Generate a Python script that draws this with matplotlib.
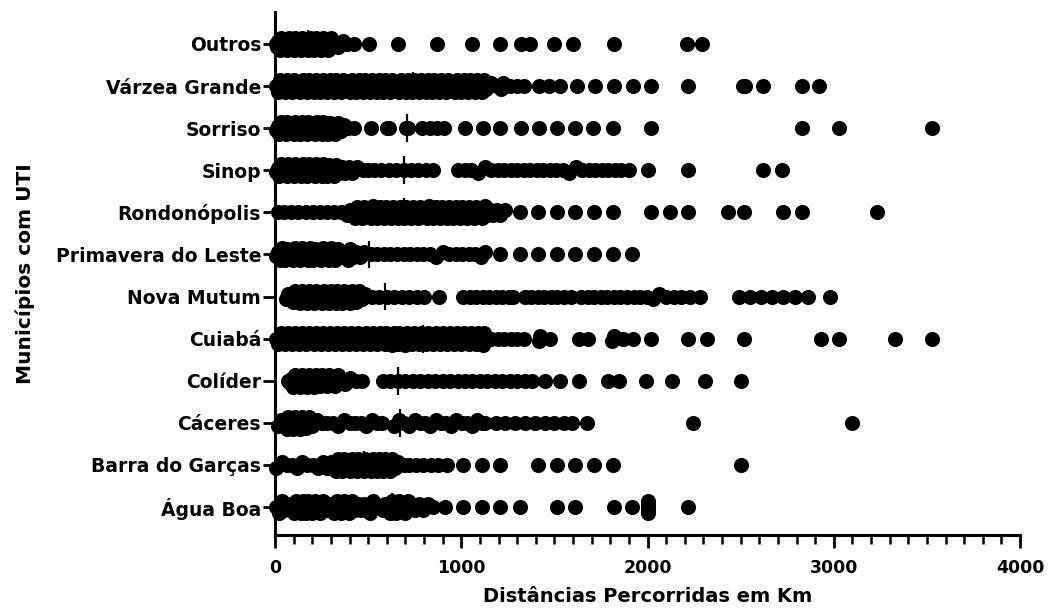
import matplotlib
matplotlib.use("Agg")
import matplotlib.pyplot as plt
import numpy as np
from matplotlib.ticker import MultipleLocator

# ── dados (km), de baixo para cima ──────────────────────────────
CATEGORIES = [
    "Água Boa", "Barra do Garças", "Cáceres", "Colíder", "Cuiabá",
    "Nova Mutum", "Primavera do Leste", "Rondonópolis", "Sinop",
    "Sorriso", "Várzea Grande", "Outros",
]

AGUA_BOA = [8, 22, 35, 50, 63, 77, 90, 102, 112, 121, 130, 139, 148, 157, 166,
            176, 188, 200, 213, 227, 242, 257, 272, 288, 303, 318, 331, 344,
            357, 370, 384, 398, 413, 428, 444, 460, 476, 492, 508, 524, 540,
            578, 592, 604, 616, 628, 640, 652, 665, 680, 696, 713, 732, 752,
            772, 795, 820, 848, 915, 1010, 1110, 1210, 1315, 1515, 1610, 1820,
            1915, 2000, 2000, 2000, 2000, 2220]
BARRA_DO_GARCAS = [8, 35, 62, 90, 118, 146, 174, 202, 230, 256, 280, 298, 310,
                   320, 329, 338, 346, 354, 362, 370, 377, 384, 391, 398, 405,
                   412, 419, 426, 433, 440, 447, 454, 461, 468, 476, 484, 492,
                   500, 508, 516, 524, 532, 541, 550, 560, 570, 580, 591, 603,
                   616, 630, 645, 662, 690, 722, 758, 795, 835, 875, 925, 1010,
                   1110, 1210, 1410, 1515, 1610, 1715, 1815, 2500]
CACERES = [15, 30, 42, 52, 62, 71, 80, 89, 98, 107, 116, 125, 135, 145, 156,
           168, 182, 200, 225, 252, 280, 310, 340, 370, 400, 430, 460, 490,
           520, 550, 575, 640, 668, 694, 722, 750, 778, 806, 834, 862, 890,
           918, 946, 974, 1002, 1030, 1058, 1086, 1110, 1128, 1185, 1235,
           1290, 1340, 1395, 1450, 1500, 1550, 1595, 1675, 2245, 3100]
COLIDER = [68, 78, 88, 98, 108, 117, 126, 135, 144, 153, 162, 171, 180, 190,
           200, 210, 220, 231, 242, 254, 266, 279, 292, 306, 321, 337, 355,
           378, 405, 435, 465, 580, 620, 660, 700, 740, 780, 820, 860, 900,
           940, 980, 1020, 1060, 1100, 1140, 1180, 1220, 1260, 1300, 1340,
           1380, 1450, 1530, 1630, 1790, 1845, 1990, 2130, 2310, 2500]
CUIABA = [5, 17, 30, 42, 55, 68, 80, 93, 106, 118, 131, 144, 156, 169, 182,
          195, 208, 220, 233, 246, 258, 271, 284, 296, 309, 322, 334, 347, 360,
          372, 385, 398, 410, 423, 436, 448, 461, 474, 486, 499, 512, 524, 537,
          550, 562, 575, 588, 598, 608, 618, 628, 638, 648, 658, 668, 678, 688,
          698, 710, 722, 735, 748, 760, 773, 786, 798, 811, 824, 836, 849, 862,
          874, 887, 900, 912, 925, 938, 950, 963, 976, 988, 1001, 1014, 1026,
          1039, 1052, 1064, 1077, 1088, 1097, 1106, 1115, 1124, 1160, 1195,
          1230, 1265, 1300, 1335, 1415, 1425, 1475, 1630, 1680, 1810, 1820,
          1870, 1920, 2020, 2220, 2320, 2520, 2930, 3030, 3330, 3530]
NOVA_MUTUM = [60, 72, 84, 95, 106, 116, 126, 136, 146, 155, 164, 173, 182, 191,
              200, 209, 218, 227, 236, 245, 254, 263, 272, 281, 290, 299, 308,
              317, 326, 335, 344, 353, 362, 371, 380, 390, 400, 411, 423, 436,
              450, 466, 485, 520, 560, 600, 640, 680, 720, 760, 800, 880, 1010,
              1045, 1080, 1115, 1150, 1185, 1220, 1255, 1280, 1340, 1375, 1410,
              1445, 1480, 1515, 1550, 1590, 1645, 1680, 1715, 1750, 1785, 1820,
              1855, 1890, 1925, 1960, 1995, 2030, 2060, 2100, 2140, 2180, 2230,
              2280, 2490, 2550, 2610, 2670, 2730, 2790, 2860, 2980]
PRIMAVERA = [6, 16, 26, 36, 46, 56, 66, 76, 86, 96, 106, 116, 126, 136, 146,
             156, 166, 176, 186, 196, 206, 216, 226, 236, 246, 256, 267, 278,
             289, 300, 312, 324, 336, 349, 362, 376, 390, 405, 420, 437, 455,
             480, 515, 550, 585, 620, 655, 690, 725, 760, 795, 830, 865, 900,
             935, 970, 1005, 1040, 1075, 1105, 1125, 1210, 1315, 1410, 1515,
             1610, 1715, 1815, 1915]
RONDONOPOLIS = [15, 50, 88, 126, 164, 202, 240, 278, 316, 352, 385, 405, 418,
                430, 442, 454, 466, 478, 490, 502, 514, 526, 538, 550, 562, 574,
                586, 598, 610, 622, 634, 646, 658, 670, 682, 694, 706, 718, 730,
                742, 754, 766, 778, 790, 802, 814, 826, 838, 850, 862, 874, 886,
                898, 910, 922, 934, 946, 958, 970, 982, 994, 1006, 1018, 1030,
                1042, 1054, 1066, 1078, 1090, 1102, 1114, 1126, 1140, 1155,
                1172, 1190, 1210, 1235, 1315, 1410, 1515, 1610, 1715, 1815,
                2020, 2120, 2220, 2430, 2520, 2730, 2830, 3230]
SINOP = [5, 14, 22, 30, 38, 46, 54, 62, 70, 78, 86, 94, 102, 110, 118, 126,
         134, 142, 150, 158, 166, 174, 182, 190, 198, 206, 214, 222, 230, 240,
         250, 260, 270, 281, 292, 304, 316, 330, 345, 360, 377, 395, 415, 440,
         470, 500, 530, 570, 610, 650, 690, 730, 770, 810, 850, 985, 1020,
         1055, 1090, 1125, 1160, 1195, 1230, 1265, 1300, 1335, 1370, 1405,
         1440, 1475, 1510, 1545, 1580, 1615, 1650, 1685, 1720, 1755, 1790,
         1825, 1860, 1900, 2000, 2220, 2620, 2720]
SORRISO = [6, 15, 24, 33, 41, 50, 58, 67, 76, 84, 93, 101, 110, 119, 127, 136,
           144, 153, 162, 170, 179, 188, 196, 205, 214, 223, 231, 240, 250, 260,
           271, 282, 294, 307, 321, 336, 352, 370, 392, 425, 515, 600, 610, 705,
           715, 790, 830, 870, 910, 1020, 1115, 1210, 1320, 1415, 1515, 1610,
           1710, 1815, 2020, 2830, 3030, 3530]
VARZEA_GRANDE = [5, 16, 28, 41, 53, 64, 77, 89, 100, 113, 125, 136, 149, 161,
                 172, 185, 197, 208, 221, 233, 244, 257, 269, 280, 293, 305,
                 316, 329, 341, 352, 365, 377, 388, 401, 413, 424, 437, 449,
                 460, 473, 485, 496, 509, 521, 532, 545, 557, 568, 581, 593,
                 604, 617, 629, 640, 653, 665, 676, 689, 701, 712, 725, 737,
                 748, 761, 773, 784, 797, 809, 820, 833, 845, 856, 869, 881,
                 892, 905, 917, 928, 941, 953, 964, 977, 989, 1000, 1013, 1025,
                 1036, 1049, 1061, 1072, 1085, 1097, 1110, 1121, 1135, 1160,
                 1190, 1212, 1222, 1260, 1300, 1335, 1420, 1470, 1530, 1620,
                 1720, 1820, 1920, 2020, 2220, 2515, 2525, 2620, 2830, 2920]
OUTROS = [4, 10, 18, 25, 31, 40, 46, 53, 60, 66, 74, 80, 87, 95, 101, 108, 116,
          122, 130, 137, 143, 151, 158, 165, 171, 179, 186, 194, 201, 210, 218,
          227, 236, 246, 258, 270, 284, 300, 318, 340, 365, 385, 425, 505, 660,
          870, 1060, 1210, 1320, 1370, 1500, 1600, 1820, 2210, 2290]

SERIES = [AGUA_BOA, BARRA_DO_GARCAS, CACERES, COLIDER, CUIABA, NOVA_MUTUM,
          PRIMAVERA, RONDONOPOLIS, SINOP, SORRISO, VARZEA_GRANDE, OUTROS]

# linha da mediana
MEDIANS = [630, 480, 670, 660, 795, 590, 505, 690, 690, 710, 740, 175]

X_MAX = 4000


def swarm_offsets(x_px, bin_px=7.0, max_off=6.0, gap=2.8):
    """Espalha na vertical (px) os pontos que caem no mesmo intervalo."""
    bins = np.floor(x_px / bin_px).astype(int)
    off = np.zeros(len(x_px))
    for b in np.unique(bins):
        idx = np.where(bins == b)[0]
        n = len(idx)
        if n == 1:
            continue
        idx = idx[np.argsort(x_px[idx], kind="stable")]
        w = min(max_off, (n - 1) * gap)
        levels = np.linspace(-w, w, n)
        # do centro para fora, alternando o lado
        levels = levels[np.argsort(np.abs(levels) + 1e-6 * np.sign(levels),
                                   kind="stable")]
        off[idx] = levels
    return off


plt.rcParams["font.family"] = "DejaVu Sans"
plt.rcParams["font.weight"] = "bold"

fig = plt.figure(figsize=(10.51, 6.12), dpi=100)
ax = fig.add_axes([275 / 1051, 77 / 612, 745 / 1051, 523 / 612])
ax.set_xlim(0, X_MAX)
ax.set_ylim(-0.665, 11.76)

bbox = ax.get_window_extent()
px_per_km = bbox.width / X_MAX
px_per_row = bbox.height / (11.76 + 0.665)

for row, vals in enumerate(SERIES):
    vals = np.asarray(vals, float)
    off = swarm_offsets(vals * px_per_km) / px_per_row
    ax.scatter(vals, row + off, s=118, c="black", linewidths=0,
               clip_on=False, zorder=3)
    ax.vlines(MEDIANS[row], row - 0.33, row + 0.33, color="black",
              lw=1.6, zorder=4)

# ── eixos ──
for side in ("top", "right"):
    ax.spines[side].set_visible(False)
for side in ("left", "bottom"):
    ax.spines[side].set_linewidth(2.2)

ax.set_yticks(range(len(CATEGORIES)))
ax.set_yticklabels(CATEGORIES, fontsize=13.5, fontweight="bold")
ax.tick_params(axis="y", length=9, width=2, pad=1)

ax.xaxis.set_major_locator(MultipleLocator(1000))
ax.xaxis.set_minor_locator(MultipleLocator(100))
ax.tick_params(axis="x", which="major", length=9.5, width=2, pad=8,
               labelsize=12.5)
ax.tick_params(axis="x", which="minor", length=6.5, width=1.8)
for lab in ax.get_xticklabels():
    lab.set_fontweight("bold")

ax.set_xlabel("Distâncias Percorridas em Km", fontsize=14, fontweight="bold",
              va="center")
ax.xaxis.set_label_coords(0.5, -0.1185)
ax.set_ylabel("Municípios com UTI", fontsize=14.5, fontweight="bold",
              va="center")
ax.yaxis.set_label_coords(-0.3356, 0.5)

fig.savefig("out.png", dpi=100)
